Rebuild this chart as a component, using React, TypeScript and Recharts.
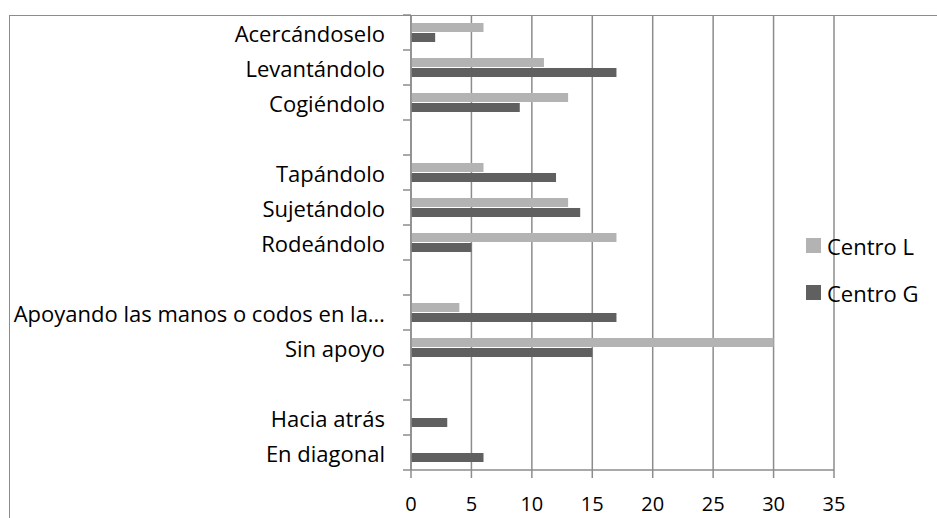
import { BarChart, Bar, XAxis, YAxis, CartesianGrid, Legend } from "recharts";

const categories = [
  "Acercándoselo",
  "Levantándolo",
  "Cogiéndolo",
  " ",
  "Tapándolo",
  "Sujetándolo",
  "Rodeándolo",
  "  ",
  "Apoyando las manos o codos en la…",
  "Sin apoyo",
  "   ",
  "Hacia atrás",
  "En diagonal",
];
const centroL = [6, 11, 13, 0, 6, 13, 17, 0, 4, 30, 0, 0, 0];
const centroG = [2, 17, 9, 0, 12, 14, 5, 0, 17, 15, 0, 3, 6];
const seriesNames = ["Centro L", "Centro G"];
const xTicks = [0, 5, 10, 15, 20, 25, 30, 35];

const data = categories.map((name, i) => ({
  name,
  L: centroL[i],
  G: centroG[i],
}));

const FONT = "'Open Sans', sans-serif";
const FS = 22;
const GRID = "#8c8c8c";
const BAND = 35;

// label at band centre, tick mark at band boundary (Excel style)
function CatTick(props: any) {
  const { x, y, payload, index } = props;
  return (
    <g>
      <text
        x={x - 18}
        y={y}
        textAnchor="end"
        dominantBaseline="central"
        fontFamily={FONT}
        fontSize={FS}
        fill="#000"
      >
        {payload.value}
      </text>
      <line x1={x} x2={x + 8} y1={y + BAND / 2} y2={y + BAND / 2} stroke={GRID} strokeWidth={1.5} />
      {index === 0 && (
        <line x1={x} x2={x + 8} y1={y - BAND / 2} y2={y - BAND / 2} stroke={GRID} strokeWidth={1.5} />
      )}
    </g>
  );
}

function LegendBox(props: any) {
  const items = [...(props.payload || [])].sort(
    (a: any, b: any) => seriesNames.indexOf(a.value) - seriesNames.indexOf(b.value)
  );
  return (
    <div>
      {items.map((it: any) => (
        <div
          key={it.value}
          style={{ display: "flex", alignItems: "center", height: 47, fontFamily: FONT, fontSize: FS }}
        >
          <span style={{ width: 15, height: 15, background: it.color, marginRight: 6, display: "inline-block" }} />
          {it.value}
        </div>
      ))}
    </div>
  );
}

export default function App() {
  return (
    <div style={{ position: "absolute", left: 0, top: 0, width: 937, height: 518, overflow: "hidden", background: "#fff" }}>
      <div
        style={{
          position: "absolute",
          left: 9,
          top: 15,
          width: 1000,
          height: 600,
          borderLeft: "1.5px solid #8c8c8c",
          borderTop: "1.5px solid #8c8c8c",
        }}
      />
      <BarChart
        width={937}
        height={518}
        data={data}
        layout="vertical"
        margin={{ top: 15, right: 103, bottom: 18, left: 0 }}
        barSize={9}
        barGap={1}
        style={{ position: "absolute", left: 0, top: 0 }}
      >
        <CartesianGrid horizontal={false} stroke={GRID} strokeWidth={1.5} />
        <XAxis
          type="number"
          domain={[0, 35]}
          ticks={xTicks}
          interval={0}
          height={30}
          stroke={GRID}
          strokeWidth={1.5}
          tickSize={8}
          tickMargin={19}
          tick={{ fill: "#000", fontFamily: FONT, fontSize: 20 }}
        />
        <YAxis
          type="category"
          dataKey="name"
          width={411}
          stroke={GRID}
          strokeWidth={1.5}
          tickLine={false}
          interval={0}
          tick={<CatTick />}
        />
        <Legend
          layout="vertical"
          align="center"
          verticalAlign="middle"
          content={<LegendBox />}
          wrapperStyle={{ left: 806, top: 222, width: 131 }}
        />
        <Bar dataKey="L" name={seriesNames[0]} fill="#b3b3b3" isAnimationActive={false} />
        <Bar dataKey="G" name={seriesNames[1]} fill="#606060" isAnimationActive={false} />
      </BarChart>
    </div>
  );
}
